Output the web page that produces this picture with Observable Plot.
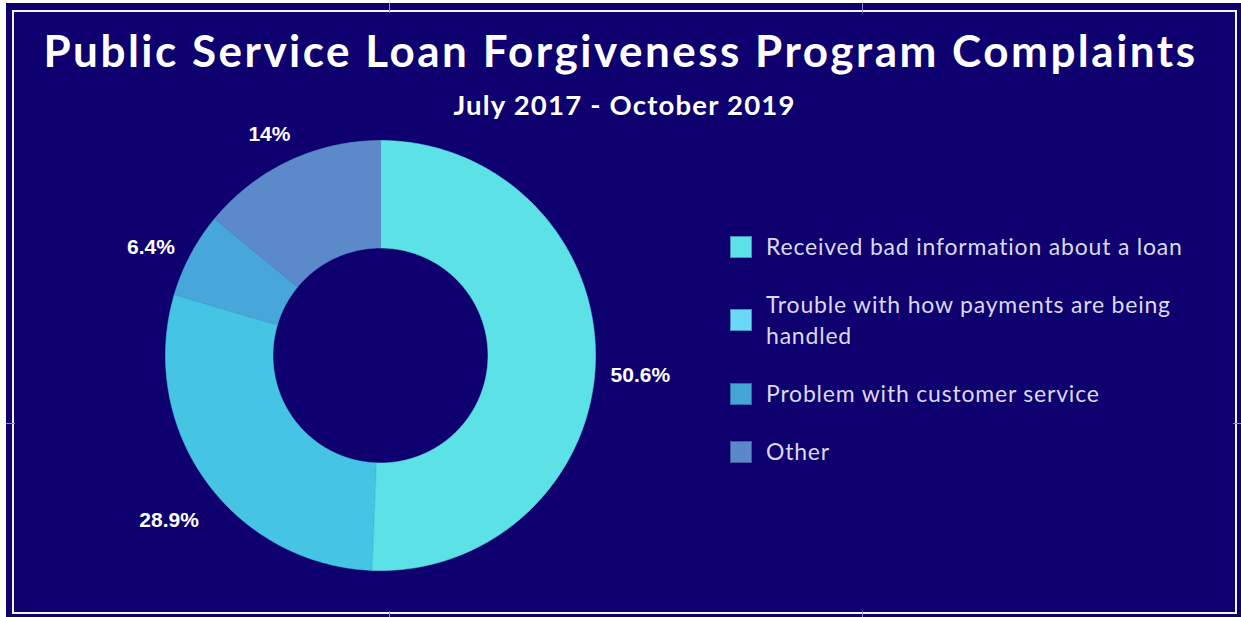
<!DOCTYPE html>
<html>
<head>
<meta charset="utf-8">
<script src="https://cdn.jsdelivr.net/npm/d3@7"></script>
<script src="https://cdn.jsdelivr.net/npm/@observablehq/plot@0.6"></script>
<style>
  html, body { margin: 0; padding: 0; background: #ffffff; }
  body { width: 1241px; height: 617px; position: relative; overflow: hidden; }
  #frame { position: absolute; left: 6px; top: 3px; width: 1235px; height: 614px; background: #0e006e; }
  #border { position: absolute; left: 12px; top: 10px; width: 1225px; height: 604px; box-sizing: border-box; border: 2.5px solid #f3f1fb; }
  .tick { position: absolute; background: #8f89cc; }
  #title { position: absolute; left: 0; top: 28px; width: 1241px; text-align: center; color: #ffffff;
           font-family: Lato, sans-serif; font-weight: 700; font-size: 44px; letter-spacing: 2.5px; line-height: 1; white-space: nowrap; }
  #subtitle { position: absolute; left: 4px; top: 91px; width: 1241px; text-align: center; color: #ffffff;
           font-family: Lato, sans-serif; font-weight: 700; font-size: 27.5px; letter-spacing: 1.2px; line-height: 1; white-space: nowrap; }
  #chart { position: absolute; left: 60px; top: 125px; }
  #legend { position: absolute; left: 730px; top: 231px; display: flex; flex-direction: column; gap: 27px; }
  .item { display: flex; align-items: center; }
  .sw { width: 22px; height: 22px; flex: none; box-sizing: border-box; border: 1px solid rgba(20,0,90,0.35); }
  .lab { margin-left: 14px; width: 428px; color: #dcd8f0; font-family: Lato, sans-serif; font-size: 23px; letter-spacing: 0.8px; line-height: 31px; }
</style>
</head>
<body>
<div id="frame"></div>
<div id="border"></div>
<div class="tick" style="left:389px;top:3px;width:1px;height:10px"></div>
<div class="tick" style="left:862px;top:3px;width:1px;height:10px"></div>
<div class="tick" style="left:389px;top:611px;width:1px;height:6px"></div>
<div class="tick" style="left:862px;top:611px;width:1px;height:6px"></div>
<div class="tick" style="left:6px;top:423px;width:9px;height:1px"></div>
<div class="tick" style="left:1233px;top:423px;width:8px;height:1px"></div>
<div id="title">Public Service Loan Forgiveness Program Complaints</div>
<div id="subtitle">July 2017 - October 2019</div>
<div id="chart"></div>
<div id="legend"></div>
<script>
// ---- data ----
const categories = [
  "Received bad information about a loan",
  "Trouble with how payments are being handled",
  "Problem with customer service",
  "Other"
];
const shares = [50.6, 28.9, 6.4, 14];
const shareLabels = ["50.6%", "28.9%", "6.4%", "14%"];
const sliceColors = ["#5ce1e6", "#45c4e3", "#48a7da", "#5b89ca"];
const swatchColors = ["#5ce1e6", "#6ad9f7", "#44a5d6", "#5a88c8"];

// ---- donut geometry (derived from the shares with d3.pie) ----
const innerRatio = 0.5;       // hole radius relative to outer radius
const labelRadius = 1.209;    // label distance relative to outer radius
const labelTopLimit = 1.093;  // keep labels inside the frame (slide along the circle)
const arcs = d3.pie().sort(null).value(d => d)(shares);

const arcPts = [];
arcs.forEach((a, i) => {
  const n = Math.max(8, Math.ceil((a.endAngle - a.startAngle) / (Math.PI / 360)));
  for (let k = 0; k <= n; k++) {
    const t = a.startAngle + (a.endAngle - a.startAngle) * k / n;
    arcPts.push({category: categories[i], x: Math.sin(t), y: Math.cos(t)});
  }
  for (let k = n; k >= 0; k--) {
    const t = a.startAngle + (a.endAngle - a.startAngle) * k / n;
    arcPts.push({category: categories[i], x: innerRatio * Math.sin(t), y: innerRatio * Math.cos(t)});
  }
});

const labelPts = arcs.map((a, i) => {
  const m = (a.startAngle + a.endAngle) / 2;
  let x = labelRadius * Math.sin(m), y = labelRadius * Math.cos(m);
  if (y > labelTopLimit) { y = labelTopLimit; x = Math.sign(x || 1) * Math.sqrt(labelRadius * labelRadius - y * y); }
  return {label: shareLabels[i], x, y};
});

const chart = Plot.plot({
  width: 620,
  height: 480,
  marginLeft: 105, marginRight: 85, marginTop: 15, marginBottom: 35,
  x: {domain: [-1, 1], axis: null},
  y: {domain: [-1, 1], axis: null},
  color: {domain: categories, range: sliceColors},
  style: {background: "transparent", overflow: "visible"},
  marks: [
    Plot.line(arcPts, {x: "x", y: "y", z: "category", fill: "category", stroke: "category", strokeWidth: 0.6, curve: "linear-closed"}),
    Plot.text(labelPts, {x: "x", y: "y", text: "label", dy: 14, fill: "#ffffff", fontSize: 21, fontWeight: "bold",
      fontFamily: "Liberation Sans, Arial, sans-serif", textAnchor: "middle"})
  ]
});
document.getElementById("chart").appendChild(chart);

// ---- legend ----
const legend = document.getElementById("legend");
categories.forEach((c, i) => {
  const item = document.createElement("div");
  item.className = "item";
  const sw = document.createElement("div");
  sw.className = "sw";
  sw.style.background = swatchColors[i];
  const lab = document.createElement("div");
  lab.className = "lab";
  lab.textContent = c;
  item.appendChild(sw);
  item.appendChild(lab);
  legend.appendChild(item);
});
</script>
</body>
</html>
